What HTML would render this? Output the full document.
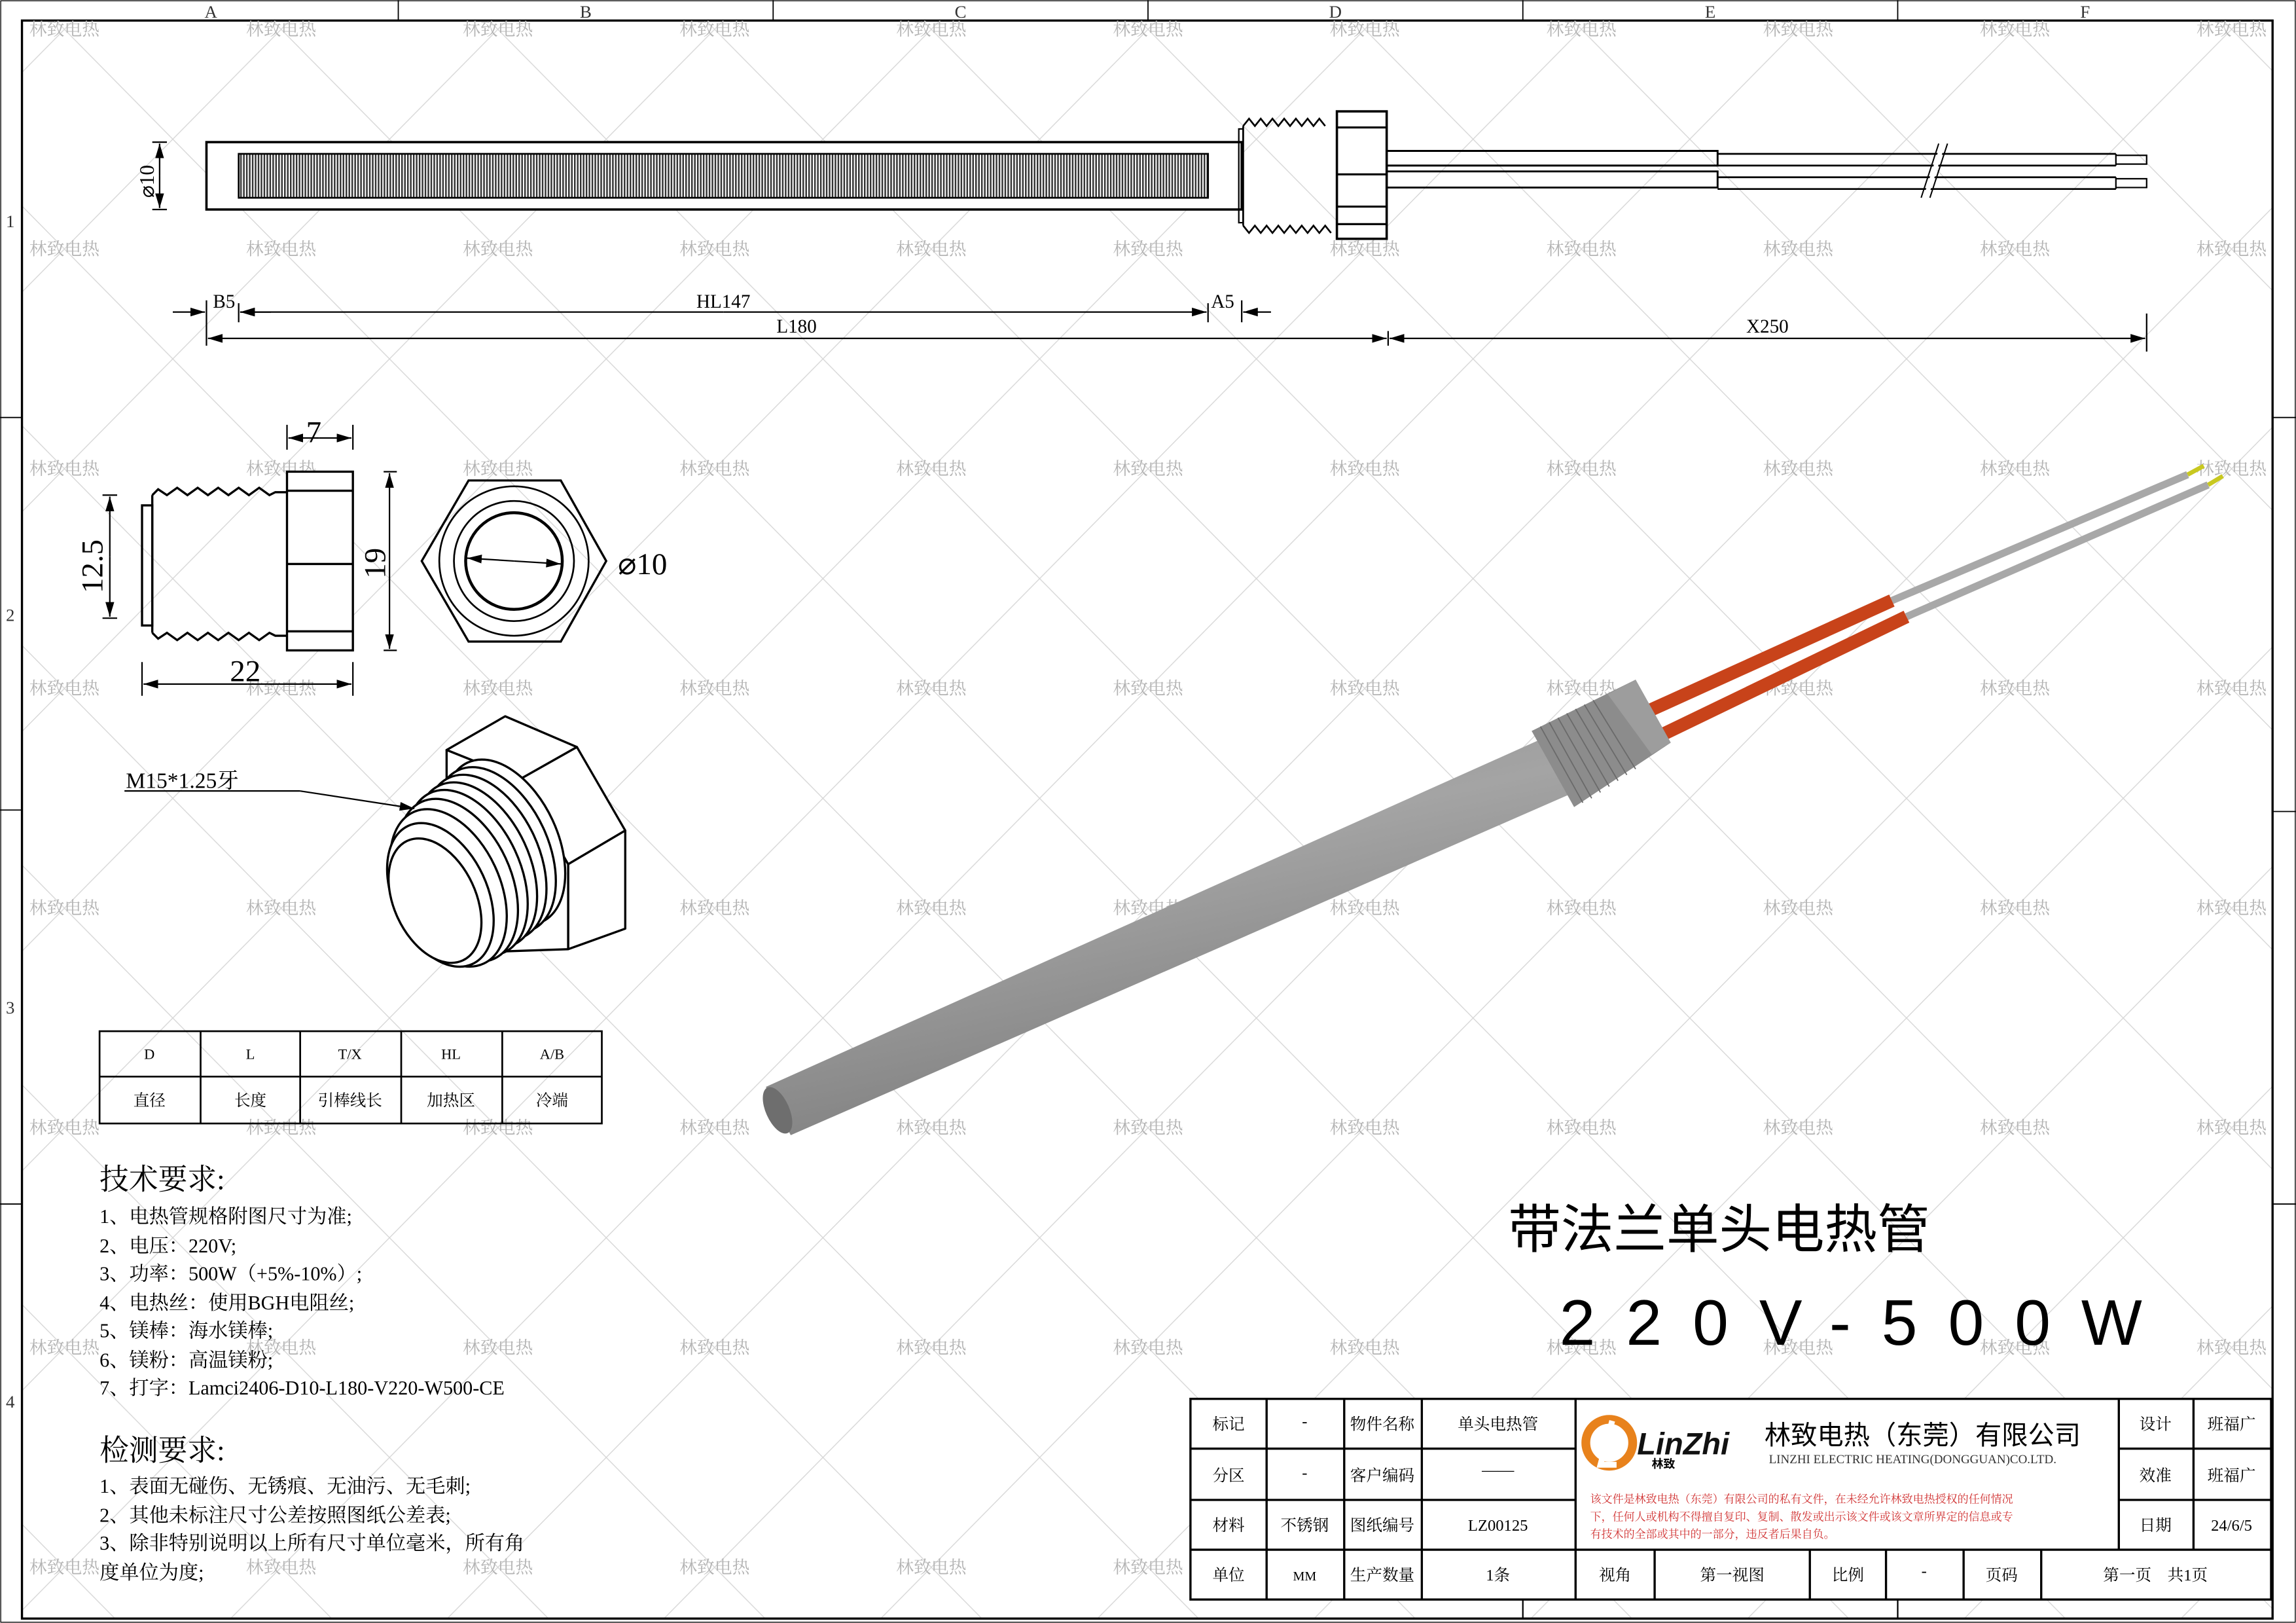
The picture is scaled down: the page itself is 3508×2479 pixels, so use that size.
<!DOCTYPE html>
<html><head><meta charset="utf-8"><style>
html,body{margin:0;padding:0;background:#fff}
svg{display:block}
text{font-family:"Liberation Serif","Noto Serif CJK SC",serif}
.s{font-family:"Liberation Sans","Noto Sans CJK SC",sans-serif}
.wm{font-family:"Noto Sans CJK SC",sans-serif;font-size:12px;fill:#b4b4b4}
</style></head><body>
<svg width="3508" height="2479" viewBox="0 0 1568 1108" xmlns="http://www.w3.org/2000/svg">
<defs>
<pattern id="diag" patternUnits="userSpaceOnUse" x="44" y="20" width="148" height="150">
<path d="M0 0L148 150M148 0L0 150" stroke="#d6d6d6" stroke-width="0.6" fill="none"/>
</pattern>
<pattern id="hatch" patternUnits="userSpaceOnUse" width="2" height="10">
<rect width="2" height="10" fill="#fff"/><rect width="1.1" height="10" fill="#333"/>
</pattern>
<linearGradient id="tube" x1="0" y1="0" x2="0.45" y2="1">
<stop offset="0" stop-color="#8a8a8a"/><stop offset="0.45" stop-color="#a4a4a4"/><stop offset="1" stop-color="#7a7a7a"/>
</linearGradient>
<marker id="ar" viewBox="0 0 10 6" refX="10" refY="3" markerWidth="10" markerHeight="6" orient="auto-start-reverse" markerUnits="userSpaceOnUse"><path d="M0 0L10 3L0 6z" fill="#000"/></marker>
</defs>
<rect width="1568" height="1108" fill="#fff"/>
<rect x="15" y="14" width="1537" height="1091" fill="url(#diag)"/>

<!-- frame -->
<g stroke="#000" fill="none">
<rect x="15" y="14" width="1537" height="1091" stroke-width="1.5"/>
<rect x="0.5" y="0.5" width="1567" height="1107" stroke-width="0.6"/>
<path d="M272 0V14M528 0V14M784 0V14M1040 0V14M1296 0V14M0 285H15M0 553H15M0 822H15M1552 285H1568M1552 554H1568M1552 822H1568" stroke-width="0.8"/>
</g>
<g font-size="12" fill="#333" text-anchor="middle">
<text x="144" y="12">A</text><text x="400" y="12">B</text><text x="656" y="12">C</text><text x="912" y="12">D</text><text x="1168" y="12">E</text><text x="1424" y="12">F</text>
<text x="7" y="155">1</text><text x="7" y="424">2</text><text x="7" y="692">3</text><text x="7" y="961">4</text>
</g>

<!-- watermarks -->
<g class="wm" text-anchor="middle">
<text x="44" y="24">林致电热</text><text x="192" y="24">林致电热</text><text x="340" y="24">林致电热</text><text x="488" y="24">林致电热</text><text x="636" y="24">林致电热</text><text x="784" y="24">林致电热</text><text x="932" y="24">林致电热</text><text x="1080" y="24">林致电热</text><text x="1228" y="24">林致电热</text><text x="1376" y="24">林致电热</text><text x="1524" y="24">林致电热</text>
<text x="44" y="174">林致电热</text><text x="192" y="174">林致电热</text><text x="340" y="174">林致电热</text><text x="488" y="174">林致电热</text><text x="636" y="174">林致电热</text><text x="784" y="174">林致电热</text><text x="932" y="174">林致电热</text><text x="1080" y="174">林致电热</text><text x="1228" y="174">林致电热</text><text x="1376" y="174">林致电热</text><text x="1524" y="174">林致电热</text>
<text x="44" y="324">林致电热</text><text x="192" y="324">林致电热</text><text x="340" y="324">林致电热</text><text x="488" y="324">林致电热</text><text x="636" y="324">林致电热</text><text x="784" y="324">林致电热</text><text x="932" y="324">林致电热</text><text x="1080" y="324">林致电热</text><text x="1228" y="324">林致电热</text><text x="1376" y="324">林致电热</text><text x="1524" y="324">林致电热</text>
<text x="44" y="474">林致电热</text><text x="192" y="474">林致电热</text><text x="340" y="474">林致电热</text><text x="488" y="474">林致电热</text><text x="636" y="474">林致电热</text><text x="784" y="474">林致电热</text><text x="932" y="474">林致电热</text><text x="1080" y="474">林致电热</text><text x="1228" y="474">林致电热</text><text x="1376" y="474">林致电热</text><text x="1524" y="474">林致电热</text>
<text x="44" y="624">林致电热</text><text x="192" y="624">林致电热</text><text x="340" y="624">林致电热</text><text x="488" y="624">林致电热</text><text x="636" y="624">林致电热</text><text x="784" y="624">林致电热</text><text x="932" y="624">林致电热</text><text x="1080" y="624">林致电热</text><text x="1228" y="624">林致电热</text><text x="1376" y="624">林致电热</text><text x="1524" y="624">林致电热</text>
<text x="44" y="774">林致电热</text><text x="192" y="774">林致电热</text><text x="340" y="774">林致电热</text><text x="488" y="774">林致电热</text><text x="636" y="774">林致电热</text><text x="784" y="774">林致电热</text><text x="932" y="774">林致电热</text><text x="1080" y="774">林致电热</text><text x="1228" y="774">林致电热</text><text x="1376" y="774">林致电热</text><text x="1524" y="774">林致电热</text>
<text x="44" y="924">林致电热</text><text x="192" y="924">林致电热</text><text x="340" y="924">林致电热</text><text x="488" y="924">林致电热</text><text x="636" y="924">林致电热</text><text x="784" y="924">林致电热</text><text x="932" y="924">林致电热</text><text x="1080" y="924">林致电热</text><text x="1228" y="924">林致电热</text><text x="1376" y="924">林致电热</text><text x="1524" y="924">林致电热</text>
<text x="44" y="1074">林致电热</text><text x="192" y="1074">林致电热</text><text x="340" y="1074">林致电热</text><text x="488" y="1074">林致电热</text><text x="636" y="1074">林致电热</text><text x="784" y="1074">林致电热</text><text x="932" y="1074">林致电热</text><text x="1080" y="1074">林致电热</text><text x="1228" y="1074">林致电热</text><text x="1376" y="1074">林致电热</text><text x="1524" y="1074">林致电热</text>
</g>

<!-- main 2D drawing -->
<g stroke="#000" fill="none" stroke-width="1.6">
<rect x="141" y="97" width="707" height="46" fill="#fff"/>
<rect x="163" y="105" width="662" height="30" fill="url(#hatch)" stroke-width="1.2"/>
<rect x="846" y="88" width="3" height="64" stroke-width="1"/>
<path d="M849 86 l4 -5 4 5 4 -5 4 5 4 -5 4 5 4 -5 4 5 4 -5 4 5 4 -5 4 5 4 -5 4 5 M849 154 l4 5 4 -5 4 5 4 -5 4 5 4 -5 4 5 4 -5 4 5 4 -5 4 5 4 -5 4 5 4 -5 4 5" stroke-width="1.2"/>
<path d="M849 86V154" stroke-width="1.2"/>
<rect x="913" y="76" width="34" height="87" fill="#fff"/>
<path d="M913 87H947M913 119H947M913 141H947M913 153H947" stroke-width="1.4"/>
<path d="M947 98V146" stroke-width="1"/>
<path d="M947 103H1173V113H947M947 117H1173V128H947" stroke-width="1.3"/>
<path d="M1173 105H1445M1173 113H1445M1173 121H1445M1173 129H1445" stroke-width="1.2"/>
<path d="M1445 105V113M1445 121V129M1445 106H1466V112H1445M1445 122H1466V128H1445" stroke-width="1"/>
<path d="M1327 98L1315 135" stroke="#fff" stroke-width="3"/>
<path d="M1330 98L1318 135M1324 98L1312 135" stroke-width="0.9"/>
</g>
<!-- phi10 -->
<g stroke="#000" stroke-width="1" fill="none">
<path d="M104 97H114M104 143H114"/>
<line x1="109" y1="120" x2="109" y2="98" marker-end="url(#ar)"/>
<line x1="109" y1="120" x2="109" y2="142" marker-end="url(#ar)"/>
</g>
<text x="0" y="0" font-size="14" transform="translate(105,135) rotate(-90)">⌀10</text>
<!-- dims -->
<g stroke="#000" stroke-width="1" fill="none">
<path d="M141 205V236M163 207V220M825 207V220M848 205V220M948 226V236M1466 214V240"/>
<line x1="118" y1="213" x2="140" y2="213" marker-end="url(#ar)"/>
<line x1="185" y1="213" x2="164" y2="213" marker-end="url(#ar)"/>
<line x1="494" y1="213" x2="824" y2="213" marker-end="url(#ar)"/>
<line x1="494" y1="213" x2="164" y2="213" marker-end="url(#ar)"/>
<line x1="868" y1="213" x2="849" y2="213" marker-end="url(#ar)"/>
<line x1="544" y1="231" x2="142" y2="231" marker-end="url(#ar)"/>
<line x1="544" y1="231" x2="947" y2="231" marker-end="url(#ar)"/>
<line x1="1207" y1="231" x2="949" y2="231" marker-end="url(#ar)"/>
<line x1="1207" y1="231" x2="1465" y2="231" marker-end="url(#ar)"/>
</g>
<g font-size="13" text-anchor="middle">
<text x="153" y="210">B5</text><text x="494" y="210">HL147</text><text x="835" y="210">A5</text>
<text x="544" y="227">L180</text><text x="1207" y="227">X250</text>
</g>

<!-- side view of fitting -->
<g stroke="#000" fill="none" stroke-width="1.5">
<rect x="97" y="345" width="7" height="82"/>
<path d="M104 338L108 334L114 338L121 333L128 338L135 333L142 338L149 333L156 338L163 333L170 338L177 333L184 338L188 336H196"/>
<path d="M104 432L108 436L114 432L121 437L128 432L135 437L142 432L149 437L156 432L163 437L170 432L177 437L184 432L188 434H196"/>
<path d="M104 338V432"/>
<rect x="196" y="322" width="45" height="122" fill="#fff"/>
<path d="M196 335H241M196 385H241M196 431H241"/>
</g>
<g stroke="#000" stroke-width="1" fill="none">
<path d="M196 290V307M241 290V307M262 322H271M262 444H271M70 338H80M70 422H80M97 452V475M241 452V475"/>
<line x1="218" y1="299" x2="197" y2="299" marker-end="url(#ar)"/>
<line x1="218" y1="299" x2="240" y2="299" marker-end="url(#ar)"/>
<line x1="266" y1="383" x2="266" y2="323" marker-end="url(#ar)"/>
<line x1="266" y1="383" x2="266" y2="443" marker-end="url(#ar)"/>
<line x1="75" y1="380" x2="75" y2="339" marker-end="url(#ar)"/>
<line x1="75" y1="380" x2="75" y2="421" marker-end="url(#ar)"/>
<line x1="169" y1="467" x2="98" y2="467" marker-end="url(#ar)"/>
<line x1="169" y1="467" x2="240" y2="467" marker-end="url(#ar)"/>
</g>
<g font-size="21">
<text x="209" y="302">7</text>
<text x="157" y="465">22</text>
<text transform="translate(263,395) rotate(-90)">19</text>
<text transform="translate(70,405) rotate(-90)">12.5</text>
<text x="422" y="392">⌀10</text>
</g>
<!-- hex front view -->
<g stroke="#000" fill="none" stroke-width="1.5">
<polygon points="288,383 320,328 383,328 414,383 383,438 320,438"/>
<circle cx="351" cy="383" r="51" stroke-width="1.2"/>
<circle cx="351" cy="383" r="41" stroke-width="1.2"/>
<circle cx="351" cy="383" r="33" stroke-width="2"/>
</g>
<g stroke="#000" stroke-width="1"><line x1="351" y1="383" x2="319" y2="381" marker-end="url(#ar)"/><line x1="351" y1="383" x2="383" y2="385" marker-end="url(#ar)"/></g>

<!-- iso fitting -->
<g stroke="#000" fill="#fff" stroke-width="1.5" stroke-linejoin="round">
<polygon points="305,512 345,489 394,510 355,532"/>
<polygon points="355,532 394,510 427,567 388,590"/>
<polygon points="388,590 427,567 427,634 388,648"/>
<polygon points="305,512 355,532 388,590 388,648 330,650 305,560"/>
<g transform="rotate(-25 310 600)">
<ellipse cx="352" cy="592" rx="36" ry="60"/>
<ellipse cx="344" cy="594" rx="36" ry="60"/>
<ellipse cx="336" cy="596" rx="36" ry="60"/>
<ellipse cx="328" cy="598" rx="36" ry="60"/>
<ellipse cx="320" cy="600" rx="36" ry="60"/>
<ellipse cx="312" cy="602" rx="36" ry="59"/>
<ellipse cx="304" cy="604" rx="35" ry="57"/>
<ellipse cx="297" cy="606" rx="32" ry="52"/>
<ellipse cx="292" cy="608" rx="28" ry="45"/>
</g>
</g>
<g stroke="#000" stroke-width="1" fill="none">
<path d="M85 540H205"/>
<line x1="205" y1="540" x2="283" y2="552" marker-end="url(#ar)"/>
</g>
<text x="86" y="538" font-size="15">M15*1.25牙</text>

<!-- table -->
<g stroke="#000" fill="none" stroke-width="1.2">
<rect x="68" y="704" width="343" height="63"/>
<path d="M68 735H411M137 704V767M205 704V767M274 704V767M343 704V767"/>
</g>
<g class="s" font-size="10" text-anchor="middle">
<text x="102" y="723">D</text><text x="171" y="723">L</text><text x="239" y="723">T/X</text><text x="308" y="723">HL</text><text x="377" y="723">A/B</text>
<text x="102" y="755" font-size="11">直径</text><text x="171" y="755" font-size="11">长度</text><text x="239" y="755" font-size="11">引棒线长</text><text x="308" y="755" font-size="11">加热区</text><text x="377" y="755" font-size="11">冷端</text>
</g>

<!-- notes -->
<g class="s" font-size="13.5">
<text x="68" y="812" font-size="20">技术要求:</text>
<text x="68" y="835">1、电热管规格附图尺寸为准;</text>
<text x="68" y="855">2、电压：220V;</text>
<text x="68" y="874">3、功率：500W（+5%-10%）;</text>
<text x="68" y="894">4、电热丝：使用BGH电阻丝;</text>
<text x="68" y="913">5、镁棒：海水镁棒;</text>
<text x="68" y="933">6、镁粉：高温镁粉;</text>
<text x="68" y="952">7、打字：Lamci2406-D10-L180-V220-W500-CE</text>
<text x="68" y="997" font-size="20">检测要求:</text>
<text x="68" y="1019">1、表面无碰伤、无锈痕、无油污、无毛刺;</text>
<text x="68" y="1039">2、其他未标注尺寸公差按照图纸公差表;</text>
<text x="68" y="1058">3、除非特别说明以上所有尺寸单位毫米，所有角</text>
<text x="68" y="1078">度单位为度;</text>
</g>

<!-- 3D heater -->
<g stroke-linecap="butt">
<line x1="1292" y1="410" x2="1494" y2="324" stroke="#a8a8a8" stroke-width="5"/>
<line x1="1302" y1="421" x2="1508" y2="331" stroke="#a8a8a8" stroke-width="5"/>
<line x1="1494" y1="324" x2="1505" y2="318" stroke="#c8c820" stroke-width="3"/>
<line x1="1508" y1="331" x2="1518" y2="325" stroke="#c8c820" stroke-width="3"/>
<line x1="1120" y1="488" x2="1292" y2="410" stroke="#c8431a" stroke-width="9"/>
<line x1="1130" y1="504" x2="1302" y2="421" stroke="#c8431a" stroke-width="9"/>
</g>
<polygon points="523,742 1085,490 1100,530 540,775" fill="url(#tube)"/>
<ellipse cx="531" cy="758" rx="8" ry="17" transform="rotate(-24 531 758)" fill="#6e6e6e"/>
<polygon points="1046,499 1117,464 1141,507 1075,551" fill="#8c8c8c"/>
<polygon points="1098,474 1117,464 1141,507 1128,515" fill="#9d9d9d"/>
<g stroke="#6a6a6a" stroke-width="0.8">
<path d="M1052 496L1081 548M1058 493L1087 545M1064 490L1093 541M1070 487L1099 537M1076 484L1105 533M1082 481L1111 529M1088 478L1117 525"/>
</g>

<!-- title -->
<text x="1030" y="852" class="s" font-size="36">带法兰单头电热管</text>
<text x="1065" y="918" class="s" font-size="44" letter-spacing="21">220V-500W</text>

<!-- title block -->
<g stroke="#000" fill="none" stroke-width="1.5">
<rect x="813" y="955" width="738" height="137" fill="#fff"/>
<path d="M813 989H1076M813 1024H1076M813 1058H1551M1447 989H1551M1447 1024H1551"/>
<path d="M865 955V1092M918 955V1092M971 955V1092M1076 955V1092M1447 955V1058M1498 955V1058"/>
<path d="M1130 1058V1092M1236 1058V1092M1288 1058V1092M1341 1058V1092M1394 1058V1092"/>
<path d="M1040 1092V1105M1296 1092V1105" stroke-width="1"/>
</g>
<g class="s" font-size="11" text-anchor="middle">
<text x="839" y="976">标记</text><text x="891" y="974">-</text><text x="944" y="976">物件名称</text><text x="1023" y="976">单头电热管</text>
<text x="839" y="1011">分区</text><text x="891" y="1009">-</text><text x="944" y="1011">客户编码</text><text x="1023" y="1007">——</text>
<text x="839" y="1045">材料</text><text x="891" y="1045">不锈钢</text><text x="944" y="1045">图纸编号</text><text x="1023" y="1045">LZ00125</text>
<text x="839" y="1079">单位</text><text x="891" y="1079" font-size="9">MM</text><text x="944" y="1079">生产数量</text><text x="1023" y="1079">1条</text>
<text x="1103" y="1079">视角</text><text x="1183" y="1079">第一视图</text><text x="1262" y="1079">比例</text><text x="1314" y="1076">-</text><text x="1367" y="1079">页码</text><text x="1472" y="1079">第一页　共1页</text>
<text x="1472" y="976">设计</text><text x="1524" y="976">班福广</text>
<text x="1472" y="1011">效准</text><text x="1524" y="1011">班福广</text>
<text x="1472" y="1045">日期</text><text x="1524" y="1045">24/6/5</text>
</g>
<!-- logo -->
<circle cx="1099" cy="985" r="16" fill="none" stroke="#e8821c" stroke-width="6"/>
<path d="M1101 970L1093 1000H1104" stroke="#fff" stroke-width="4" fill="none"/>
<text x="1118" y="993" class="s" font-size="21" font-weight="bold" font-style="italic" fill="#111">LinZhi</text>
<text x="1128" y="1002" class="s" font-size="8" font-weight="bold">林致</text>
<text x="1205" y="986" class="s" font-size="18">林致电热（东莞）有限公司</text>
<text x="1208" y="999" font-size="8.5" fill="#333">LINZHI ELECTRIC HEATING(DONGGUAN)CO.LTD.</text>
<g class="s" font-size="7.6" fill="#d03030">
<text x="1086" y="1026">该文件是林致电热（东莞）有限公司的私有文件，在未经允许林致电热授权的任何情况</text>
<text x="1086" y="1038">下，任何人或机构不得擅自复印、复制、散发或出示该文件或该文章所界定的信息或专</text>
<text x="1086" y="1050">有技术的全部或其中的一部分，违反者后果自负。</text>
</g>
</svg>
</body></html>
